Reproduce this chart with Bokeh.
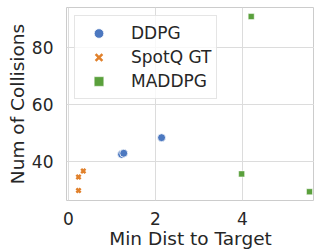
from bokeh.plotting import figure
from bokeh.models import Range1d, Legend, LegendItem, FixedTicker
from bokeh.embed import file_html
from bokeh.resources import INLINE

# Data
ddpg_x = [1.22, 1.27, 2.14]
ddpg_y = [42.4, 42.8, 48.3]
spotq_x = [0.23, 0.34, 0.23]
spotq_y = [34.4, 36.5, 29.6]
maddpg_x = [4.2, 3.98, 5.54]
maddpg_y = [91.1, 35.5, 29.2]
series_names = ["DDPG", "SpotQ GT", "MADDPG"]
x_ticks = [0, 2, 4]
y_ticks = [40, 60, 80]

FONT = "DejaVu Sans"
TXT = "#262626"
GRID = "#dcdcdc"

p = figure(width=314, height=251, output_backend="svg", toolbar_location=None,
           x_range=Range1d(-0.046, 5.655), y_range=Range1d(26.1, 94.3),
           min_border_left=66, min_border_right=0, min_border_top=7, min_border_bottom=48)
p.background_fill_color = "white"
p.border_fill_color = "white"
p.outline_line_color = "#cccccc"
p.outline_line_width = 1

r1 = p.scatter(ddpg_x, ddpg_y, marker="circle", size=8, fill_color="#4C78C0",
               line_color="white", line_width=0.8)
r2 = p.scatter(spotq_x, spotq_y, marker="x", size=6, line_color="#E1812C", line_width=2.5)
r3 = p.scatter(maddpg_x, maddpg_y, marker="square", size=6, fill_color="#5AA03C",
               line_color="white", line_width=0.5)

for ax in (p.xaxis[0], p.yaxis[0]):
    ax.axis_line_color = None
    ax.major_tick_line_color = None
    ax.minor_tick_line_color = None
    ax.major_label_text_font = FONT
    ax.major_label_text_font_size = "17px"
    ax.major_label_text_color = TXT
    ax.axis_label_text_font = FONT
    ax.axis_label_text_font_size = "18.5px"
    ax.axis_label_text_font_style = "normal"
    ax.axis_label_text_color = TXT

p.xaxis.ticker = FixedTicker(ticks=x_ticks)
p.yaxis.ticker = FixedTicker(ticks=y_ticks)
p.xaxis.axis_label = "Min Dist to Target"
p.yaxis.axis_label = "Num of Collisions"
p.xaxis.major_label_standoff = 5
p.yaxis.major_label_standoff = 7
p.xaxis.axis_label_standoff = 0
p.yaxis.axis_label_standoff = 1

p.xgrid.grid_line_color = GRID
p.ygrid.grid_line_color = GRID
p.xgrid.grid_line_width = 1
p.ygrid.grid_line_width = 1

legend = Legend(items=[LegendItem(label=series_names[0], renderers=[r1]),
                       LegendItem(label=series_names[1], renderers=[r2]),
                       LegendItem(label=series_names[2], renderers=[r3])],
                location="top_left")
legend.label_text_font = FONT
legend.label_text_font_size = "17px"
legend.label_text_color = TXT
legend.padding = 5
legend.spacing = 0
legend.label_height = 24
legend.glyph_height = 24
legend.glyph_width = 37
legend.label_standoff = 14
legend.border_line_color = "#cccccc"
legend.border_line_width = 1
legend.background_fill_color = "white"
legend.background_fill_alpha = 0.8
legend.margin = 8
p.add_layout(legend, "center")

open("out.html", "w").write(file_html(p, INLINE))
